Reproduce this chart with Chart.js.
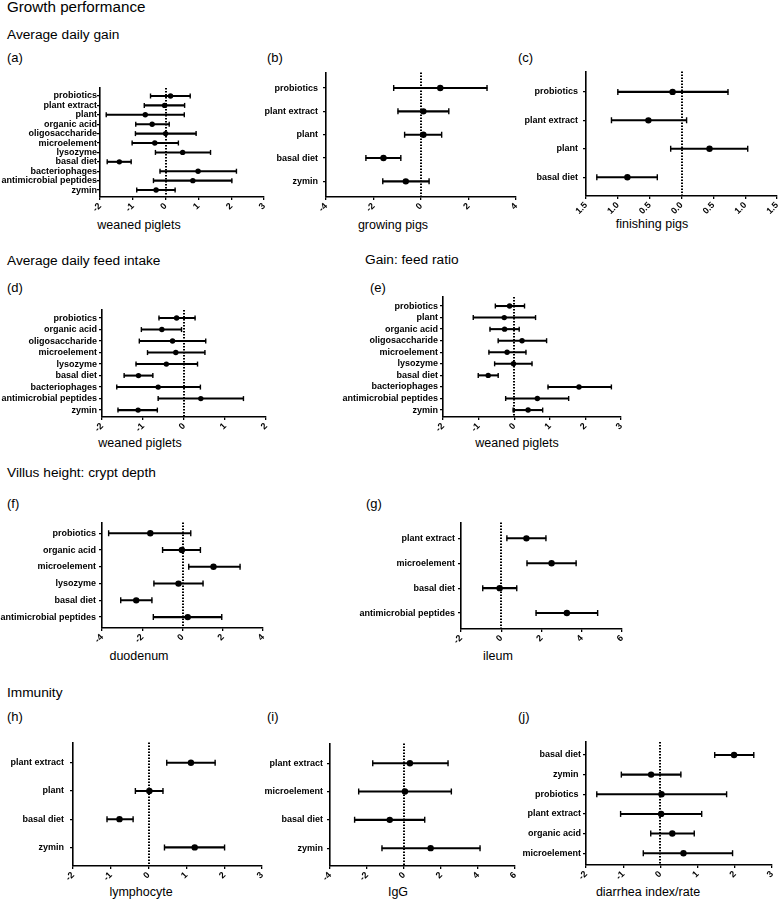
<!DOCTYPE html>
<html><head><meta charset="utf-8">
<script src="https://cdn.jsdelivr.net/npm/chart.js@4.4.0/dist/chart.umd.min.js"></script>
<style>
html,body{margin:0;padding:0;background:#fff;width:778px;height:902px;overflow:hidden;}
body{position:relative;font-family:"Liberation Sans",Arial,sans-serif;color:#000;}
.t{position:absolute;white-space:nowrap;line-height:1;}
canvas{position:absolute;}
</style></head><body>
<script>
// ---------- DATA ----------
const aCategories = ['probiotics','plant extract','plant','organic acid','oligosaccharide','microelement','lysozyme','basal diet','bacteriophages','antimicrobial peptides','zymin'];
const aEstimate = [0.15,-0.03,-0.62,-0.41,0.0,-0.33,0.52,-1.41,0.99,0.83,-0.29];
const aLower = [-0.46,-0.65,-1.81,-0.91,-0.92,-1.02,-0.31,-1.78,-0.17,-0.37,-0.88];
const aUpper = [0.75,0.58,0.57,0.11,0.93,0.39,1.37,-1.05,2.16,2.02,0.29];
const aTicks = [-2,-1,0,1,2,3];
const aTickLabels = ['-2','-1','0','1','2','3'];

const bCategories = ['probiotics','plant extract','plant','basal diet','zymin'];
const bEstimate = [0.81,0.1,0.1,-1.58,-0.64];
const bLower = [-1.15,-0.97,-0.69,-2.32,-1.61];
const bUpper = [2.78,1.17,0.87,-0.85,0.34];
const bTicks = [-4,-2,0,2,4];
const bTickLabels = ['-4','-2','0','2','4'];

const cCategories = ['probiotics','plant extract','plant','basal diet'];
const cEstimate = [-0.14,-0.52,0.44,-0.85];
const cLower = [-1.0,-1.1,-0.17,-1.33];
const cUpper = [0.73,0.08,1.04,-0.38];
const cTicks = [-1.5,-1,-0.5,0,0.5,1,1.5];
const cTickLabels = ['1.5','1.0','0.5','0.0','0.5','1.0','1.5'];

const dCategories = ['probiotics','organic acid','oligosaccharide','microelement','lysozyme','basal diet','bacteriophages','antimicrobial peptides','zymin'];
const dEstimate = [-0.18,-0.54,-0.28,-0.2,-0.43,-1.11,-0.63,0.41,-1.12];
const dLower = [-0.61,-1.04,-1.09,-0.89,-1.17,-1.46,-1.64,-0.63,-1.61];
const dUpper = [0.27,-0.06,0.53,0.51,0.33,-0.76,0.4,1.45,-0.65];
const dTicks = [-2,-1,0,1,2];
const dTickLabels = ['-2','-1','0','1','2'];

const eCategories = ['probiotics','plant','organic acid','oligosaccharide','microelement','lysozyme','basal diet','bacteriophages','antimicrobial peptides','zymin'];
const eEstimate = [-0.13,-0.28,-0.27,0.22,-0.2,-0.02,-0.73,1.82,0.65,0.39];
const eLower = [-0.53,-1.15,-0.68,-0.45,-0.71,-0.55,-1.01,0.95,-0.24,-0.03];
const eUpper = [0.29,0.6,0.14,0.91,0.33,0.5,-0.45,2.73,1.53,0.8];
const eTicks = [-2,-1,0,1,2,3];
const eTickLabels = ['-2','-1','0','1','2','3'];

const fCategories = ['probiotics','organic acid','microelement','lysozyme','basal diet','antimicrobial peptides'];
const fEstimate = [-1.6,-0.03,1.54,-0.2,-2.3,0.26];
const fLower = [-3.67,-0.99,0.31,-1.42,-3.07,-1.45];
const fUpper = [0.41,0.89,2.86,1.02,-1.52,1.95];
const fTicks = [-4,-2,0,2,4];
const fTickLabels = ['-4','-2','0','2','4'];

const gCategories = ['plant extract','microelement','basal diet','antimicrobial peptides'];
const gEstimate = [1.25,2.5,-0.08,3.26];
const gLower = [0.28,1.28,-0.92,1.73];
const gUpper = [2.22,3.72,0.77,4.79];
const gTicks = [-2,0,2,4,6];
const gTickLabels = ['-2','0','2','4','6'];

const hCategories = ['plant extract','plant','basal diet','zymin'];
const hEstimate = [1.12,0.02,-0.77,1.22];
const hLower = [0.48,-0.35,-1.1,0.42];
const hUpper = [1.76,0.38,-0.41,2.01];
const hTicks = [-2,-1,0,1,2,3];
const hTickLabels = ['-2','-1','0','1','2','3'];

const iCategories = ['plant extract','microelement','basal diet','zymin'];
const iEstimate = [0.32,0.05,-0.77,1.44];
const iLower = [-1.69,-2.45,-2.67,-1.19];
const iUpper = [2.38,2.56,1.12,4.11];
const iTicks = [-4,-2,0,2,4,6];
const iTickLabels = ['-4','-2','0','2','4','6'];

const jCategories = ['basal diet','zymin ','probiotics ','plant extract','organic acid','microelement'];
const jEstimate = [1.98,-0.25,0.03,0.02,0.32,0.62];
const jLower = [1.46,-1.05,-1.71,-1.07,-0.26,-0.46];
const jUpper = [2.51,0.55,1.78,1.11,0.91,1.94];
const jTicks = [-2,-1,0,1,2,3];
const jTickLabels = ['-2','-1','0','1','2','3'];

// ---------- TEXT ----------
const FONT = '"Liberation Sans", Arial, sans-serif';
function text(str, x, baseline, size, opts) {
  opts = opts || {};
  const d = document.createElement('div');
  d.className = 't';
  d.textContent = str;
  d.style.fontSize = size + 'px';
  d.style.top = (baseline - 0.8465 * size) + 'px';
  d.style.left = x + 'px';
  if (opts.center) d.style.transform = 'translateX(-50%)';
  document.body.appendChild(d);
}
text('Growth performance', 7, 12, 15.2);
text('Average daily gain', 7, 40, 13.7);
text('(a)', 7, 62.5, 13);
text('(b)', 267, 62, 13);
text('(c)', 518, 62, 13);
text('Average daily feed intake', 7, 266, 13.7);
text('(d)', 7, 292.5, 13);
text('Gain: feed ratio', 365, 265, 13.7);
text('(e)', 370, 292.5, 13);
text('Villus height: crypt depth', 7, 478, 13.7);
text('(f)', 7, 508, 13);
text('(g)', 366, 508, 13);
text('Immunity', 7, 698, 13.7);
text('(h)', 7, 721, 13);
text('(i)', 267, 721, 13);
text('(j)', 518, 721, 13);

text('weaned piglets', 139, 230, 12.5, {center:true});
text('growing pigs', 393, 230, 12.5, {center:true});
text('finishing pigs', 652, 229, 12.5, {center:true});
text('weaned piglets', 140, 447.5, 12.5, {center:true});
text('weaned piglets', 517, 447.5, 12.5, {center:true});
text('duodenum', 139, 660.5, 12.5, {center:true});
text('ileum', 498, 660.5, 12.5, {center:true});
text('lymphocyte', 141, 897, 12.5, {center:true});
text('IgG', 398, 897, 12.5, {center:true});
text('diarrhea index/rate', 648, 897, 12.5, {center:true});

// ---------- CHARTS ----------
const zeroLine = {
  id: 'zeroLine',
  beforeDatasetsDraw(chart) {
    const x = Math.round(chart.scales.x.getPixelForValue(0));
    const ca = chart.chartArea;
    const ctx = chart.ctx;
    ctx.save();
    ctx.strokeStyle = '#000';
    ctx.lineWidth = 2;
    ctx.setLineDash([1.6, 1.4]);
    ctx.beginPath();
    ctx.moveTo(x, ca.top);
    ctx.lineTo(x, ca.bottom);
    ctx.stroke();
    ctx.restore();
  }
};

function panel(cats, est, lo, hi, ticks, tickLabels, L) {
  const padT = 8, xH = 24, padR = 14;
  const W = L.yW + (L.right - L.left) + padR;
  const H = padT + (L.bottom - L.top) + xH;
  const cv = document.createElement('canvas');
  cv.width = W; cv.height = H;
  cv.style.width = W + 'px'; cv.style.height = H + 'px';
  cv.style.left = (L.left - L.yW) + 'px';
  cv.style.top = (L.top - padT) + 'px';
  document.body.appendChild(cv);
  const n = cats.length;
  const tickFont = {family: FONT, size: 9, weight: 'bold'};
  new Chart(cv, {
    type: 'bar',
    data: {
      datasets: [
        { type: 'bar', data: cats.map((c, i) => ({y: i, x: [lo[i], hi[i]]})),
          backgroundColor: '#000', borderWidth: 0, barThickness: 1.4, order: 3 },
        { type: 'scatter', data: cats.flatMap((c, i) => [{x: lo[i], y: i}, {x: hi[i], y: i}]),
          pointStyle: 'line', rotation: 90, radius: L.cap, borderColor: '#000', borderWidth: 1.4, order: 2 },
        { type: 'scatter', data: cats.map((c, i) => ({x: est[i], y: i})),
          pointStyle: 'circle', radius: L.r, backgroundColor: '#000', borderColor: '#000', borderWidth: 0, order: 1 }
      ]
    },
    options: {
      indexAxis: 'y', responsive: false, animation: false, devicePixelRatio: 1,
      layout: {padding: {top: padT, right: padR, left: 0, bottom: 0}},
      plugins: {legend: {display: false}, tooltip: {enabled: false}},
      scales: {
        x: {
          type: 'linear', position: 'bottom', min: ticks[0], max: ticks[ticks.length - 1],
          offset: false, grace: 0, beginAtZero: false,
          afterFit: s => { s.height = xH; },
          afterBuildTicks: s => { s.ticks = ticks.map(v => ({value: v})); },
          ticks: {callback: (v, i) => tickLabels[i], font: tickFont, color: '#000',
                  minRotation: 45, maxRotation: 45, padding: 1, autoSkip: false},
          grid: {offset: false, drawOnChartArea: false, drawTicks: true, tickLength: 3, color: '#000', lineWidth: 1.3},
          border: {display: true, color: '#000', width: 1.6}
        },
        y: {
          type: 'linear', position: 'left', reverse: true, min: -L.padTop, max: n - 1 + L.padBot,
          offset: false, grace: 0, beginAtZero: false,
          afterFit: s => { s.width = L.yW; },
          afterBuildTicks: s => { s.ticks = cats.map((c, i) => ({value: i})); },
          ticks: {callback: v => cats[v], font: tickFont, color: '#000', padding: L.gap - 3, autoSkip: false},
          grid: {offset: false, drawOnChartArea: false, drawTicks: true, tickLength: 3, color: '#000', lineWidth: 1.3},
          border: {display: true, color: '#000', width: 1.6}
        }
      }
    },
    plugins: [zeroLine]
  });
}

const dense = {r: 2.7, cap: 2.5};
const sparse = {r: 3.2, cap: 3};
panel(aCategories, aEstimate, aLower, aUpper, aTicks, aTickLabels, Object.assign({left:100,right:264,top:88,bottom:197,padTop:0.85,padBot:0.74,yW:100,gap:3}, dense));
panel(bCategories, bEstimate, bLower, bUpper, bTicks, bTickLabels, Object.assign({left:326,right:516,top:70,bottom:197,padTop:0.67,padBot:0.67,yW:80,gap:8}, sparse));
panel(cCategories, cEstimate, cLower, cUpper, cTicks, cTickLabels, Object.assign({left:586,right:777,top:69,bottom:196,padTop:0.72,padBot:0.66,yW:80,gap:8}, sparse));
panel(dCategories, dEstimate, dLower, dUpper, dTicks, dTickLabels, Object.assign({left:102,right:266,top:310,bottom:417,padTop:0.7,padBot:0.6,yW:102,gap:5}, dense));
panel(eCategories, eEstimate, eLower, eUpper, eTicks, eTickLabels, Object.assign({left:443,right:621,top:297,bottom:417,padTop:0.78,padBot:0.6,yW:105,gap:5}, dense));
panel(fCategories, fEstimate, fLower, fUpper, fTicks, fTickLabels, Object.assign({left:102,right:263,top:522,bottom:628,padTop:0.65,padBot:0.65,yW:102,gap:6}, sparse));
panel(gCategories, gEstimate, gLower, gUpper, gTicks, gTickLabels, Object.assign({left:461,right:622,top:522,bottom:629,padTop:0.64,padBot:0.64,yW:105,gap:6}, sparse));
panel(hCategories, hEstimate, hLower, hUpper, hTicks, hTickLabels, Object.assign({left:73,right:262,top:739,bottom:866,padTop:0.72,padBot:0.66,yW:73,gap:9}, sparse));
panel(iCategories, iEstimate, iLower, iUpper, iTicks, iTickLabels, Object.assign({left:330,right:515,top:742,bottom:866,padTop:0.7,padBot:0.63,yW:80,gap:7}, sparse));
panel(jCategories, jEstimate, jLower, jUpper, jTicks, jTickLabels, Object.assign({left:586,right:772,top:742,bottom:865,padTop:0.66,padBot:0.6,yW:80,gap:5}, sparse));
</script>
</body></html>
